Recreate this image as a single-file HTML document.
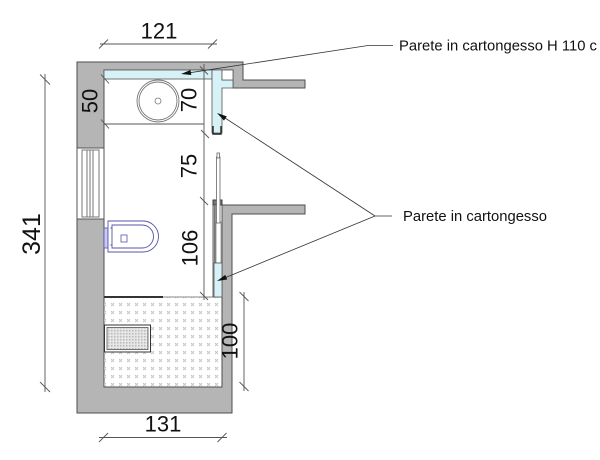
<!DOCTYPE html>
<html><head><meta charset="utf-8"><style>
html,body{margin:0;padding:0;background:#fff;}
svg{display:block;}
text{font-family:"Liberation Sans",Arial,sans-serif;fill:#111;}
</style></head><body>
<svg width="600" height="460" viewBox="0 0 600 460" xmlns="http://www.w3.org/2000/svg">
<defs>
<pattern id="fl" x="101" y="301" width="8" height="8" patternUnits="userSpaceOnUse">
<path d="M2,2 L5,5 M5,2 L2,5" stroke="#c4c4c4" stroke-width="0.9"/>
</pattern>
<pattern id="dr" x="0" y="0" width="3" height="3" patternUnits="userSpaceOnUse">
<rect width="3" height="3" fill="#e6e6e6"/>
<rect x="0" y="0" width="1.5" height="1.5" fill="#b8b8b8"/>
</pattern>
</defs>

<!-- walls -->
<path d="M77,62 H243 V80 H305 V88 H233 V70 H104 V387 H222 V205 H305 V214 H232 V413 H77 Z" fill="#b5b5b5" stroke="#4d4d4d" stroke-width="1"/>

<!-- window -->
<rect x="77" y="148" width="27" height="71" fill="#fff" stroke="#555"/>
<rect x="82" y="150" width="17" height="67" fill="#fff" stroke="#777"/>
<line x1="87" y1="150" x2="87" y2="217" stroke="#777"/>
<line x1="90" y1="150" x2="90" y2="217" stroke="#777"/>
<line x1="93" y1="150" x2="93" y2="217" stroke="#777"/>

<!-- top plasterboard strip -->
<rect x="104" y="70" width="108" height="9" fill="#d6f2f7" stroke="#555" stroke-width="0.8"/>
<!-- T plasterboard -->
<path d="M212,70 H222 V80 H233 V88 H222 V133 H212 Z" fill="#d6f2f7" stroke="#555" stroke-width="0.8"/>
<rect x="222" y="70" width="11" height="10" fill="#fff" stroke="#555" stroke-width="0.8"/>
<path d="M213,126 V134 H221 V126" fill="none" stroke="#222" stroke-width="1.4"/>

<!-- counter -->
<line x1="104" y1="124" x2="204" y2="124" stroke="#555" stroke-width="0.9"/>
<!-- sink -->
<circle cx="158" cy="101" r="21" fill="#fff" stroke="#777" stroke-width="0.9"/>
<circle cx="158" cy="101" r="19" fill="none" stroke="#777" stroke-width="0.9"/>
<circle cx="158" cy="101" r="3" fill="none" stroke="#777" stroke-width="0.8"/>

<!-- toilet -->
<rect x="104" y="228" width="4" height="20" fill="#c9c9f2" stroke="#5555aa" stroke-width="0.8"/>
<path d="M108,221 H143 A15.5,15.5 0 0 1 143,252 H108 Z" fill="#fff" stroke="#5555aa" stroke-width="0.9"/>
<path d="M112,225 H142 A11.5,11.5 0 0 1 142,248 H112 Z" fill="none" stroke="#5555aa" stroke-width="0.9"/>
<rect x="121" y="235" width="6" height="7" fill="none" stroke="#5555aa" stroke-width="0.8"/>
<circle cx="111" cy="228" r="0.6" fill="#5555aa"/>
<circle cx="111" cy="245" r="0.6" fill="#5555aa"/>

<!-- shower floor -->
<rect x="104" y="297" width="118" height="90" fill="url(#fl)"/>
<line x1="104" y1="297" x2="163" y2="297" stroke="#333" stroke-width="2"/>
<line x1="163" y1="297" x2="222" y2="297" stroke="#888" stroke-width="1"/>
<rect x="104.5" y="325" width="46" height="27" fill="#fff" stroke="#333" stroke-width="1"/>
<rect x="107" y="327.5" width="41" height="22" fill="url(#dr)" stroke="#555" stroke-width="0.8"/>

<!-- shower glass / door -->
<rect x="213" y="200" width="9" height="97" fill="#fff" stroke="#555" stroke-width="0.9"/>
<rect x="213" y="200" width="9" height="5" fill="#777" stroke="#333" stroke-width="0.8"/>
<line x1="214.8" y1="205" x2="214.8" y2="263" stroke="#777" stroke-width="2"/>
<rect x="216" y="222" width="5" height="41" fill="#fff" stroke="#888" stroke-width="0.8"/>
<rect x="216.5" y="157" width="3.5" height="66" fill="#fff" stroke="#666" stroke-width="0.8"/>
<rect x="217" y="153" width="2.5" height="5" fill="#fff" stroke="#666" stroke-width="0.8"/>
<rect x="214" y="263" width="8" height="34" fill="#d6f2f7" stroke="#555" stroke-width="0.8"/>

<!-- dimension lines -->
<g stroke="#555" stroke-width="0.9" fill="none">
<line x1="100" y1="44" x2="217" y2="44"/>
<line x1="99" y1="48.5" x2="108" y2="39.5"/>
<line x1="208" y1="48.5" x2="217" y2="39.5"/>

<line x1="99" y1="437.5" x2="227" y2="437.5"/>
<line x1="99" y1="442" x2="108" y2="433"/>
<line x1="217.5" y1="442" x2="226.5" y2="433"/>

<line x1="45" y1="74" x2="45" y2="392"/>
<line x1="40" y1="74.5" x2="50" y2="84.5"/>
<line x1="40" y1="382" x2="50" y2="392"/>

<line x1="244" y1="292" x2="244" y2="391"/>
<line x1="239.5" y1="292" x2="248.5" y2="301"/>
<line x1="239.5" y1="382" x2="248.5" y2="391"/>

<line x1="101" y1="74.5" x2="109" y2="83.5"/>
<line x1="101" y1="119.5" x2="109" y2="128.5"/>

<line x1="204" y1="64" x2="204" y2="300"/>
<line x1="200" y1="66.5" x2="208" y2="74.5"/>
<line x1="201" y1="130" x2="209" y2="138"/>
<line x1="200" y1="197" x2="208" y2="205"/>
<line x1="200" y1="292" x2="208" y2="300"/>
</g>

<!-- leaders -->
<g stroke="#333" stroke-width="0.8" fill="none">
<polyline points="186,73.3 368,45.5 393,45.5"/>
<line x1="375" y1="216" x2="392" y2="216"/>
<line x1="375" y1="216" x2="222" y2="116"/>
<line x1="375" y1="216" x2="222" y2="279"/>
</g>
<polygon points="181,74 191.3,75 190.5,70" fill="#111"/>
<polygon points="217,113 226.8,116.4 224,120.6" fill="#111"/>
<polygon points="217,281 227.2,279.5 225.3,274.9" fill="#111"/>

<!-- labels -->
<text x="399" y="50.5" font-size="14.8">Parete in cartongesso H 110 c</text>
<text x="403" y="221" font-size="14.8">Parete in cartongesso</text>

<!-- dimension numbers -->
<g font-size="22" text-anchor="middle" dominant-baseline="central">
<text x="159" y="31">121</text>
<text x="163" y="424">131</text>
<text transform="translate(90,101) rotate(-90)">50</text>
<text transform="translate(189,100) rotate(-90)">70</text>
<text transform="translate(189,166) rotate(-90)">75</text>
<text transform="translate(190,248) rotate(-90)">106</text>
<text transform="translate(230,341) rotate(-90)">100</text>
<text transform="translate(32,234) rotate(-90)" font-size="25">341</text>
</g>
</svg>
</body></html>
